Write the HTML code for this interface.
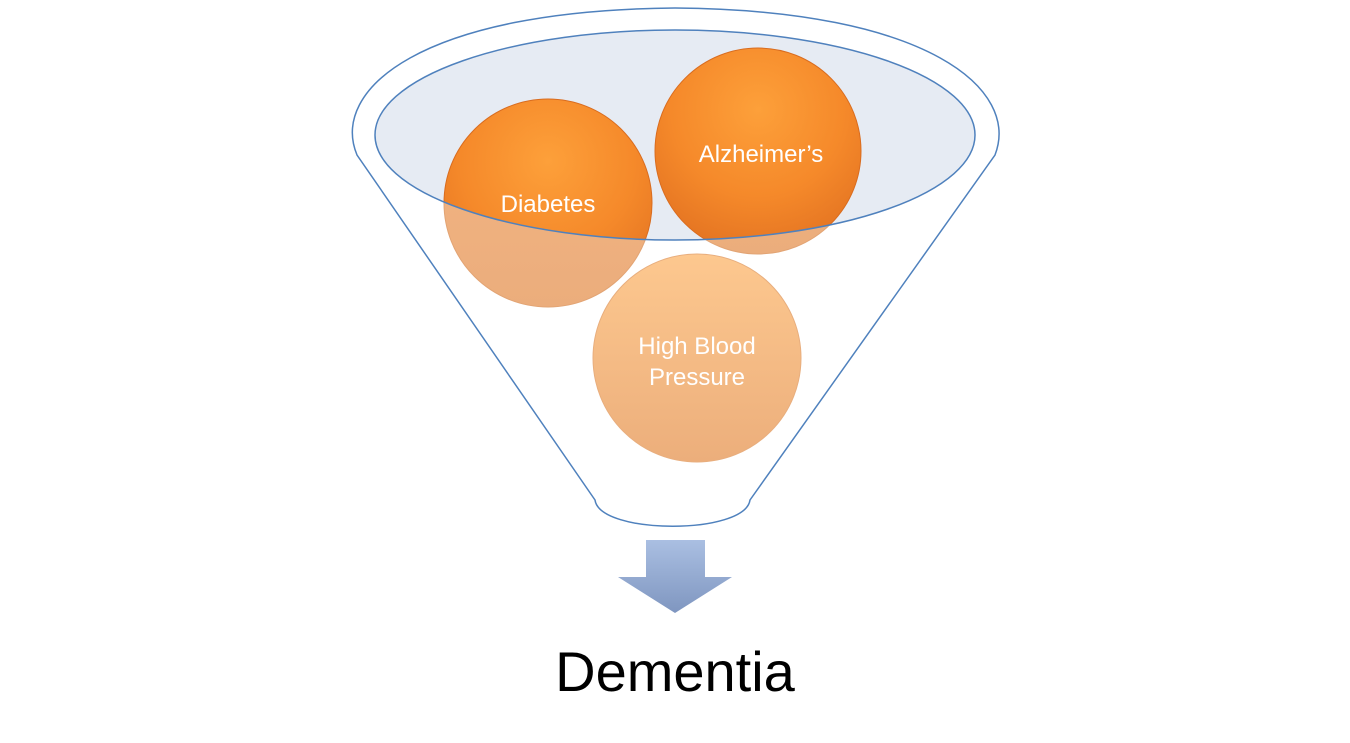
<!DOCTYPE html>
<html><head><meta charset="utf-8"><style>
html,body{margin:0;padding:0;background:#fff;width:1350px;height:743px;overflow:hidden}
svg{display:block}
text{font-family:"Liberation Sans","DejaVu Sans",sans-serif}
</style></head><body>
<svg width="1350" height="743" viewBox="0 0 1350 743">
<defs>
<radialGradient id="orangeFull" cx="50%" cy="30%" r="70%">
<stop offset="0" stop-color="#fda03a"/><stop offset="0.6" stop-color="#f5892a"/><stop offset="1" stop-color="#e47422"/>
</radialGradient>
<linearGradient id="orangeFade" x1="0" y1="0" x2="0" y2="1">
<stop offset="0" stop-color="#f4b583"/><stop offset="1" stop-color="#ebad7c"/>
</linearGradient>
<linearGradient id="hbp" x1="0" y1="0" x2="0" y2="1">
<stop offset="0" stop-color="#fdc88f"/><stop offset="1" stop-color="#ecae7b"/>
</linearGradient>
<linearGradient id="arrowGrad" x1="0" y1="0" x2="0" y2="1">
<stop offset="0" stop-color="#aabfe2"/><stop offset="1" stop-color="#7f96c0"/>
</linearGradient>
<clipPath id="ellClip"><ellipse cx="675" cy="135" rx="300" ry="105"/></clipPath>
</defs>

<path d="M357,155 C330,90 420,10 675,8 C930,10 1020,90 995,155 L750,500 C745,535 600,535 595,500 Z" fill="#fff" stroke="#4f81bd" stroke-width="1.5"/>

<circle cx="548" cy="203" r="104" fill="url(#orangeFade)" stroke="#e2a474" stroke-width="1"/>
<circle cx="758" cy="151" r="103" fill="url(#orangeFade)" stroke="#e2a474" stroke-width="1"/>
<circle cx="697" cy="358" r="104" fill="url(#hbp)" stroke="#e8ae7e" stroke-width="1"/>

<ellipse cx="675" cy="135" rx="300" ry="105" fill="#e6ebf3"/>
<g clip-path="url(#ellClip)">
<circle cx="548" cy="203" r="104" fill="url(#orangeFull)" stroke="#d96c1f" stroke-width="1"/>
<circle cx="758" cy="151" r="103" fill="url(#orangeFull)" stroke="#d96c1f" stroke-width="1"/>
</g>
<ellipse cx="675" cy="135" rx="300" ry="105" fill="none" stroke="#4f81bd" stroke-width="1.5"/>

<text x="548" y="212" font-size="24" fill="#fff" text-anchor="middle">Diabetes</text>
<text x="761" y="162" font-size="24" fill="#fff" text-anchor="middle">Alzheimer’s</text>
<text x="697" y="354" font-size="24" fill="#fff" text-anchor="middle">High Blood</text>
<text x="697" y="385" font-size="24" fill="#fff" text-anchor="middle">Pressure</text>

<path d="M646,540 L705,540 L705,577 L732,577 L675,613 L618,577 L646,577 Z" fill="url(#arrowGrad)"/>

<text x="675" y="691" font-size="56" fill="#000" text-anchor="middle">Dementia</text>
</svg>
</body></html>
